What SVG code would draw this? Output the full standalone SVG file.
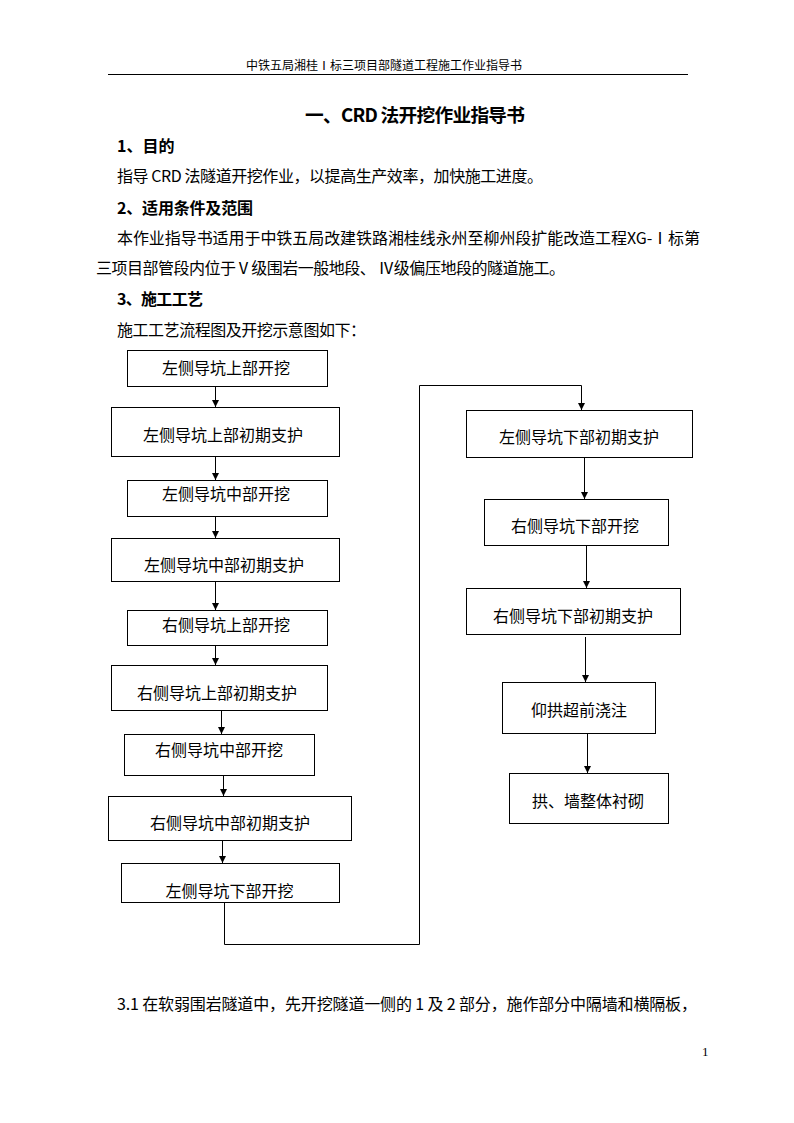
<svg xmlns="http://www.w3.org/2000/svg" width="794" height="1123" viewBox="0 0 794 1123">
<style>
text{font-family:"Noto Sans CJK SC","Liberation Sans",sans-serif;fill:#000}
.hd{font-size:12px}
.pg{font-family:"Liberation Serif",serif;font-size:13px}
.ti{font-size:18.7px;font-weight:bold}
.h2{font-size:16px;font-weight:bold}
.bd{font-size:16px}
.bx rect{fill:#fff;stroke:#000;stroke-width:1}
.bx text{font-size:16px;text-anchor:middle}
.cn{fill:none;stroke:#000;stroke-width:1}
</style>
<defs>
<marker id="ah" markerWidth="7" markerHeight="7" refX="7" refY="3.5" orient="auto" markerUnits="userSpaceOnUse" viewBox="0 0 7 7">
<path d="M0,0 L7,3.5 L0,7 z" fill="#000"/>
</marker>
</defs>
<rect width="794" height="1123" fill="#fff"/>
<text class="hd" x="246" y="69.5" textLength="276">中铁五局湘桂Ⅰ标三项目部隧道工程施工作业指导书</text>
<line x1="108" y1="74.5" x2="688" y2="74.5" stroke="#000" stroke-width="1"/>
<text class="ti" x="305" y="122" textLength="220">一、CRD 法开挖作业指导书</text>
<text class="h2" x="117" y="152">1、目的</text>
<text class="bd" x="117" y="182" textLength="426">指导 CRD 法隧道开挖作业，以提高生产效率，加快施工进度。</text>
<text class="h2" x="117" y="214" textLength="136">2、适用条件及范围</text>
<text class="bd" x="117" y="244" textLength="583">本作业指导书适用于中铁五局改建铁路湘桂线永州至柳州段扩能改造工程XG-Ⅰ标第</text>
<text class="bd" x="96" y="274" textLength="469">三项目部管段内位于Ⅴ级围岩一般地段、 Ⅳ级偏压地段的隧道施工。</text>
<text class="h2" x="117" y="305" textLength="86">3、施工工艺</text>
<text class="bd" x="117" y="336" textLength="249">施工工艺流程图及开挖示意图如下：</text>

<g id="n1" class="bx"><rect x="127.5" y="350.5" width="200" height="36"/><text x="226" y="374">左侧导坑上部开挖</text></g>
<g id="n2" class="bx"><rect x="111.5" y="407.5" width="228" height="49"/><text x="223" y="440.5">左侧导坑上部初期支护</text></g>
<g id="n3" class="bx"><rect x="127.5" y="480.5" width="200" height="36"/><text x="226" y="500">左侧导坑中部开挖</text></g>
<g id="n4" class="bx"><rect x="111.5" y="538.5" width="228" height="43"/><text x="224" y="571">左侧导坑中部初期支护</text></g>
<g id="n5" class="bx"><rect x="127.5" y="610.5" width="200" height="35"/><text x="226" y="630.5">右侧导坑上部开挖</text></g>
<g id="n6" class="bx"><rect x="111.5" y="665.5" width="216" height="45"/><text x="217" y="699">右侧导坑上部初期支护</text></g>
<g id="n7" class="bx"><rect x="124.5" y="734.5" width="190" height="41"/><text x="219" y="756">右侧导坑中部开挖</text></g>
<g id="n8" class="bx"><rect x="108.5" y="796.5" width="243" height="44"/><text x="230" y="828.5">右侧导坑中部初期支护</text></g>
<g id="n9" class="bx"><rect x="121.5" y="863.5" width="218" height="39"/><text x="229.5" y="896.5">左侧导坑下部开挖</text></g>
<g id="n10" class="bx"><rect x="466.5" y="410.5" width="226" height="47"/><text x="579" y="443">左侧导坑下部初期支护</text></g>
<g id="n11" class="bx"><rect x="484.5" y="499.5" width="184" height="46"/><text x="575" y="531.5">右侧导坑下部开挖</text></g>
<g id="n12" class="bx"><rect x="466.5" y="588.5" width="214" height="46"/><text x="573" y="621.5">右侧导坑下部初期支护</text></g>
<g id="n13" class="bx"><rect x="502.5" y="682.5" width="153" height="51"/><text x="579" y="715.5">仰拱超前浇注</text></g>
<g id="n14" class="bx"><rect x="509.5" y="773.5" width="159" height="50"/><text x="588" y="806.5">拱、墙整体衬砌</text></g>

<g id="connectors" class="cn">
<line x1="215.5" y1="387" x2="215.5" y2="407" marker-end="url(#ah)"/>
<line x1="215.5" y1="457" x2="215.5" y2="480" marker-end="url(#ah)"/>
<line x1="215.5" y1="517" x2="215.5" y2="538" marker-end="url(#ah)"/>
<line x1="215.5" y1="582" x2="215.5" y2="610" marker-end="url(#ah)"/>
<line x1="215.5" y1="646" x2="215.5" y2="665" marker-end="url(#ah)"/>
<line x1="221.5" y1="711" x2="221.5" y2="734" marker-end="url(#ah)"/>
<line x1="223.5" y1="776" x2="223.5" y2="796" marker-end="url(#ah)"/>
<line x1="222.5" y1="841" x2="222.5" y2="863" marker-end="url(#ah)"/>
<polyline points="224.5,903 224.5,944.5 419.5,944.5 419.5,385.5 581.5,385.5 581.5,410" marker-end="url(#ah)"/>
<line x1="584.5" y1="458" x2="584.5" y2="499" marker-end="url(#ah)"/>
<line x1="586.5" y1="546" x2="586.5" y2="588" marker-end="url(#ah)"/>
<line x1="585.5" y1="637" x2="585.5" y2="682" marker-end="url(#ah)"/>
<line x1="587.5" y1="734" x2="587.5" y2="773" marker-end="url(#ah)"/>
</g>

<text class="bd" x="117" y="1010" textLength="580">3.1 在软弱围岩隧道中，先开挖隧道一侧的 1 及 2 部分，施作部分中隔墙和横隔板，</text>
<text class="pg" x="702" y="1056">1</text>
</svg>
